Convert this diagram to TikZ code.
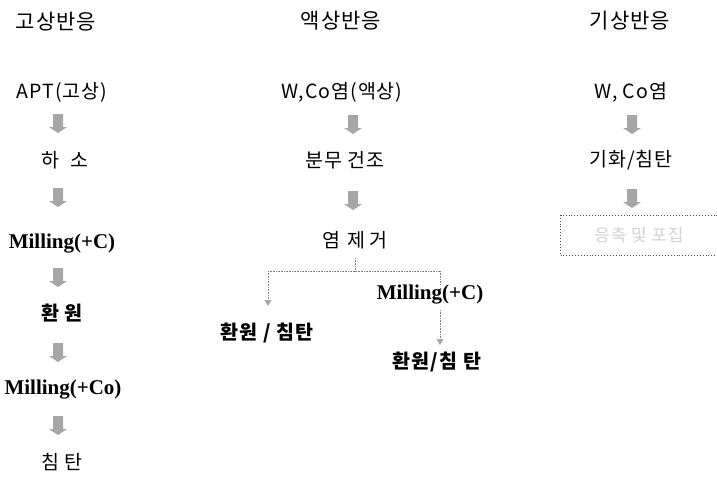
\documentclass[tikz,border=0pt]{standalone}
\usepackage{fontspec}
\setmainfont{Noto Sans CJK KR}
\newfontfamily\serifb{Liberation Serif}
\newfontfamily\widek[LetterSpace=5]{Noto Sans CJK KR}
\usetikzlibrary{calc,arrows.meta}
\tikzset{
  title/.style={font=\widek\fontsize{21}{23}\selectfont, inner sep=0pt},
  lbl/.style={font=\widek\fontsize{19.5}{21}\selectfont, inner sep=1pt},
  mill/.style={font=\serifb\bfseries\fontsize{21}{23}\selectfont, inner sep=1pt},
  barrow/.pic={\fill[gray!70] (-5,-9) -- (5,-9) -- (5,4) -- (9,4) -- (0,10) -- (-9,4) -- (-5,4) -- cycle;},
  branch/.style={gray, line width=0.6pt, densely dotted},
  thinarrow/.style={branch, -{Triangle[width=7pt,length=6pt,color=gray!70,fill=gray!70]}},
}
\begin{document}
\begin{tikzpicture}[x=1pt,y=-1pt]
\useasboundingbox (0,0) rectangle (717,490);
% titles
\node[title] (t1) at (56,22) {고상반응};
\node[title] (t2) at (341,21) {액상반응};
\node[title] (t3) at (630,21) {기상반응};
% column 1
\node[lbl] (a1) at (62,92) {APT(고상)};
\node[lbl] (a2) at (65,160) {하\hspace{0.6em}소};
\node[mill] (a3) at (62,244) {Milling(+C)};
\node[lbl] (a4) at (62,313) {\bfseries 환\hspace{0.3em}원};
\node[mill] (a5) at (63,390) {Milling(+Co)};
\node[lbl] (a6) at (62,462) {침\hspace{0.3em}탄};
\pic at (58,123) {barrow};
\pic at (58,197) {barrow};
\pic at (58,277) {barrow};
\pic at (58,352) {barrow};
\pic at (58,425) {barrow};
% column 2
\node[lbl] (b1) at (342,92) {W,Co염(액상)};
\node[lbl] (b2) at (345,160) {분무 건조};
\node[lbl] (b3) at (355,240) {염\hspace{0.35em}제\hspace{0.25em}거};
\pic at (353,124) {barrow};
\pic at (353,200) {barrow};
\node[lbl] (b4) at (267,333) {\bfseries 환원 / 침탄};
\node[mill] (b5) at (430,295) {Milling(+C)};
\node[lbl] (b6) at (437,362) {\bfseries 환원/침\hspace{0.3em}탄};
\coordinate (j) at (355,271);
\coordinate (jl) at (268,271);
\coordinate (jr) at (440,271);
\draw[branch] (355,258) -- (j);
\draw[branch] (jl) -- (jr);
\draw[thinarrow] (jl) -- (268,306);
\draw[branch] (jr) -- (440,285);
\draw[thinarrow] (440,310) -- (440,345);
% column 3
\node[lbl] (c1) at (631,92) {W, Co염};
\node[lbl] (c2) at (631,160) {기화/침탄};
\pic at (632,124) {barrow};
\pic at (632,198) {barrow};
\node[draw=black!70, line width=0.9pt, dotted, minimum width=157pt, minimum height=40pt, inner sep=0pt,
  font=\widek\fontsize{17}{19}\selectfont, text=gray!35] (c3) at (639,235) {응축 및 포집};
\end{tikzpicture}
\end{document}
